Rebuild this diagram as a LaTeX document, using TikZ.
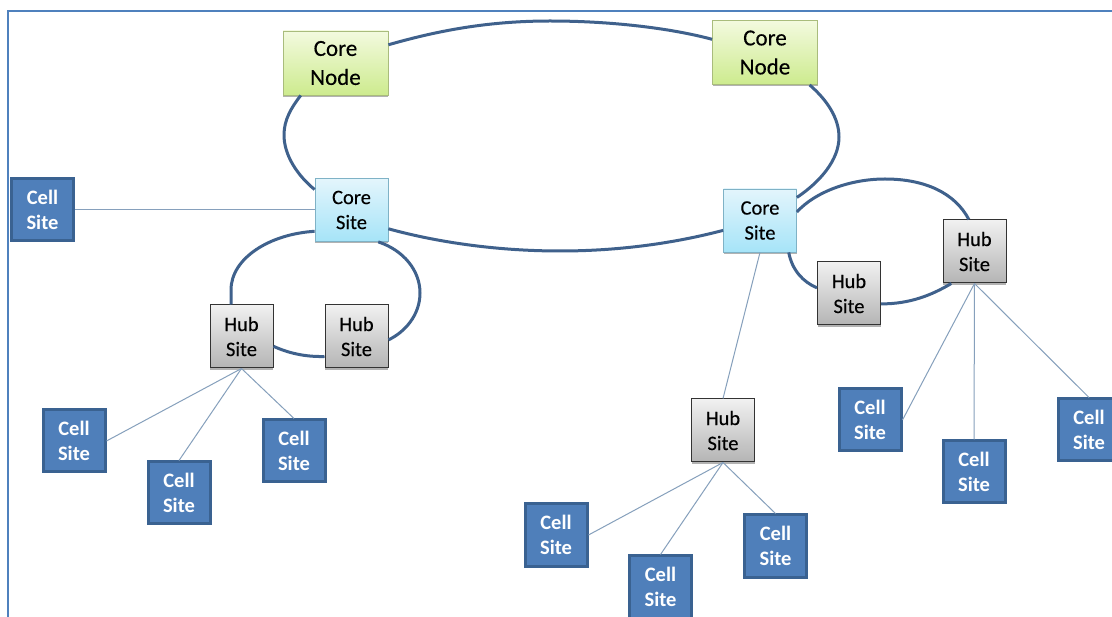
\documentclass[tikz,border=0pt]{standalone}
\usepackage{fontspec}
\setmainfont{Carlito}
\newfontfamily\semibold[FakeBold=0.35]{Carlito}
\usetikzlibrary{shadows}
\definecolor{ringc}{HTML}{3F618C}
\definecolor{leafc}{HTML}{86A0BC}
\definecolor{framec}{HTML}{4F81BD}
\definecolor{cellc}{HTML}{4F7FBA}
\definecolor{celld}{HTML}{3A6291}
\definecolor{greentop}{HTML}{F3FADF}
\definecolor{greenbot}{HTML}{CDEB8E}
\definecolor{greenedge}{HTML}{A9BC7C}
\definecolor{bluetop}{HTML}{E3F5FC}
\definecolor{bluebot}{HTML}{A6E4F8}
\definecolor{blueedge}{HTML}{7FB2C6}
\definecolor{greytop}{HTML}{F1F1F1}
\definecolor{greybot}{HTML}{B4B4B4}
\tikzset{
  softshadow/.style={general shadow={fill=black,opacity=.3,shadow yshift=-1.6pt,shadow xshift=.4pt}},
  corenode/.style={draw=greenedge,line width=.8pt,minimum width=105pt,minimum height=64pt,inner sep=0pt,
    top color=greentop,bottom color=greenbot,align=center,
    font=\semibold\fontsize{23}{29}\selectfont\color{black},softshadow},
  coresite/.style={draw=blueedge,line width=.8pt,minimum width=73pt,minimum height=63pt,inner sep=0pt,
    top color=bluetop,bottom color=bluebot,align=center,
    font=\semibold\fontsize{20.5}{25}\selectfont\color{black},softshadow},
  hubsite/.style={draw=black!80,line width=1pt,minimum width=63pt,minimum height=63pt,inner sep=0pt,
    top color=greytop,bottom color=greybot,align=center,
    font=\semibold\fontsize{20.5}{25}\selectfont\color{black},softshadow},
  cellsite/.style={draw=celld,line width=3pt,fill=cellc,minimum width=62pt,minimum height=62pt,inner sep=0pt,align=center,
    font=\fontsize{20.5}{25}\selectfont\bfseries\color{white}},
  ringline/.style={draw=ringc,line width=3pt},
  leafline/.style={draw=leafc,line width=1pt},
  framerule/.style={draw=framec,line width=2pt}
}
\begin{document}
\begin{tikzpicture}[x=1pt,y=-1pt]
\useasboundingbox[fill=white] (0,0) rectangle (1112,617);
\coordinate (frameA) at (8,617);
\coordinate (frameB) at (8,11);
\coordinate (frameC) at (1112,11);
\draw[framerule] (frameA) -- (frameB) -- (frameC);

\node[corenode] (cnA) at (335.5,63) {Core\\Node};
\node[corenode] (cnB) at (765,52.5) {Core\\Node};
\node[coresite] (csA) at (351.5,210) {Core\\Site};
\node[coresite] (csB) at (760,220.5) {Core\\Site};
\node[hubsite] (hubA) at (241.5,336.5) {Hub\\Site};
\node[hubsite] (hubB) at (356.5,336.5) {Hub\\Site};
\node[hubsite] (hubC) at (723,430.5) {Hub\\Site};
\node[hubsite] (hubD) at (849,293.5) {Hub\\Site};
\node[hubsite] (hubE) at (974.5,251.5) {Hub\\Site};
\node[cellsite] (cellA) at (42.5,210) {Cell\\Site};
\node[cellsite] (cellB) at (74,441) {Cell\\Site};
\node[cellsite] (cellC) at (179,493) {Cell\\Site};
\node[cellsite] (cellD) at (294,451) {Cell\\Site};
\node[cellsite] (cellE) at (556,535) {Cell\\Site};
\node[cellsite] (cellF) at (660.5,587) {Cell\\Site};
\node[cellsite] (cellG) at (775.5,546) {Cell\\Site};
\node[cellsite] (cellH) at (870,420) {Cell\\Site};
\node[cellsite] (cellI) at (974,472) {Cell\\Site};
\node[cellsite] (cellJ) at (1089,430) {Cell\\Site};

% main ring
\draw[ringline] (cnA.19) .. controls (440,30) and (490,21) .. (550,21)
  .. controls (610,21) and (670,28) .. (cnB.166.5);
\draw[ringline] (cnB.-36) .. controls (827,100) and (839,118) .. (839,137)
  .. controls (839,160) and (820,182) .. (csB.32.4);
\draw[ringline] (csA.-27) .. controls (440,243) and (500,251) .. (560,251)
  .. controls (620,251) and (675,243) .. (csB.195.8);
\draw[ringline] (cnA.223.7) .. controls (291,108) and (284,120) .. (284,135)
  .. controls (284,155) and (297,175) .. (csA.151);
% left ring
\draw[ringline] (csA.210.5) .. controls (270,234) and (231,258) .. (231,290)
  .. controls (231,295) and (231,300) .. (hubA.108.4);
\draw[ringline] (csA.-50) .. controls (403,250) and (420,270) .. (420,293)
  .. controls (420,315) and (405,332) .. (hubB.-6.3);
\draw[ringline] (hubA.-17.6) .. controls (288,353) and (305,357) .. (hubB.212.4);
% right ring
\draw[ringline] (csB.13) .. controls (815,192) and (850,179) .. (885,179)
  .. controls (925,179) and (955,193) .. (hubE.100);
\draw[ringline] (csB.-48.4) .. controls (792,270) and (803,282) .. (hubD.170);
\draw[ringline] (hubD.-18.4) .. controls (910,304) and (932,295) .. (hubE.234.5);

% tree lines
\draw[leafline] (cellA.east) -- (csA.west |- cellA.east);
\draw[leafline] (csB.south) -- (hubC.north);
\draw[leafline] (hubA.south) -- (cellB.east);
\draw[leafline] (hubA.south) -- (cellC.north);
\draw[leafline] (hubA.south) -- (cellD.north);
\draw[leafline] (hubC.south) -- (cellE.east);
\draw[leafline] (hubC.south) -- (cellF.north);
\draw[leafline] (hubC.south) -- (cellG.north);
\draw[leafline] (hubE.south) -- (cellH.east);
\draw[leafline] (hubE.south) -- (cellI.north);
\draw[leafline] (hubE.south) -- (cellJ.north);
\end{tikzpicture}
\end{document}
